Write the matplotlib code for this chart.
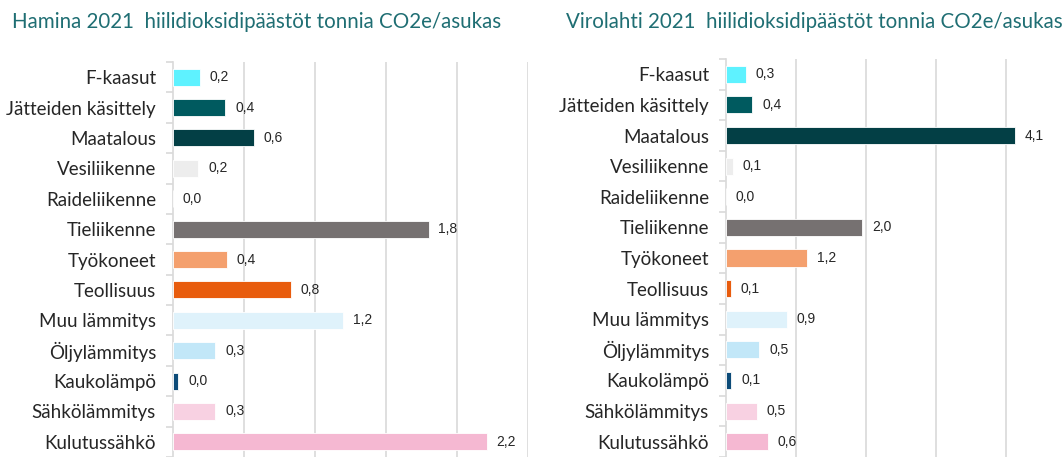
import matplotlib
matplotlib.use("Agg")
import matplotlib.pyplot as plt
import numpy as np

categories = ["F-kaasut", "Jätteiden käsittely", "Maatalous", "Vesiliikenne",
              "Raideliikenne", "Tieliikenne", "Työkoneet", "Teollisuus",
              "Muu lämmitys", "Öljylämmitys", "Kaukolämpö", "Sähkölämmitys",
              "Kulutussähkö"]

hamina_values = [0.19, 0.37, 0.57, 0.18, 0.0, 1.80, 0.38, 0.83, 1.20, 0.30, 0.04, 0.30, 2.21]
hamina_labels = ["0,2", "0,4", "0,6", "0,2", "0,0", "1,8", "0,4", "0,8", "1,2", "0,3", "0,0", "0,3", "2,2"]

virolahti_values = [0.29, 0.38, 4.13, 0.10, 0.0, 1.95, 1.16, 0.07, 0.87, 0.48, 0.08, 0.45, 0.60]
virolahti_labels = ["0,3", "0,4", "4,1", "0,1", "0,0", "2,0", "1,2", "0,1", "0,9", "0,5", "0,1", "0,5", "0,6"]

colors = ["#5EF2FF", "#005A5F", "#033F45", "#EDEDED", "#FFFFFF", "#767171",
          "#F4A06E", "#E85C0D", "#DFF2FB", "#C2E7F8", "#0C4B78", "#F8D1E2", "#F5B8D2"]

titles = ["Hamina 2021  hiilidioksidipäästöt tonnia CO2e/asukas",
          "Virolahti 2021  hiilidioksidipäästöt tonnia CO2e/asukas"]

W, H = 1064, 457
fig = plt.figure(figsize=(W / 100, H / 100), dpi=100)

TITLE_COLOR = "#1F6E73"
GRID_COLOR = "#D9D9D9"
CAT_FONT = "Lato"
VAL_FONT = "Liberation Sans"


def make_panel(left_px, right_px, top_px, xmax, grid_step, values, labels, title, title_x):
    ax = fig.add_axes([left_px / W, 0, (right_px - left_px) / W, (H - top_px) / H])
    y = np.arange(len(categories))
    ax.barh(y, values, height=0.56, color=colors, edgecolor="#FFFFFF", linewidth=0.6, zorder=3)
    ax.set_ylim(len(categories) - 0.5, -0.5)
    ax.set_xlim(0, xmax)
    ax.set_xticks(np.arange(grid_step, xmax + 1e-9, grid_step))
    ax.xaxis.grid(True, color=GRID_COLOR, linewidth=1.2, zorder=0)
    ax.tick_params(axis="x", length=0, labelbottom=False)
    ax.set_yticks(y)
    ax.set_yticklabels(categories, fontfamily=CAT_FONT, fontsize=13.5, color="#262626")
    ax.tick_params(axis="y", length=0, pad=12)
    ax.set_yticks(np.arange(-0.5, len(categories), 1.0), minor=True)
    ax.tick_params(axis="y", which="minor", length=5, color=GRID_COLOR, width=1.2)
    for s in ["top", "right", "bottom"]:
        ax.spines[s].set_visible(False)
    ax.spines["left"].set_color(GRID_COLOR)
    ax.spines["left"].set_linewidth(1.2)
    for yi, v, lab in zip(y, values, labels):
        ax.annotate(lab, xy=(v, yi), xytext=(7, 0), textcoords="offset points",
                    va="center", ha="left", fontsize=10, fontfamily=VAL_FONT, color="#262626")
    fig.text(title_x / W, 1 - 22 / H, title, fontsize=14.8, fontfamily=CAT_FONT,
             color=TITLE_COLOR, va="center", ha="left")
    return ax


make_panel(172.7, 528, 62, 2.5, 0.5, hamina_values, hamina_labels, titles[0], 12)
make_panel(725.7, 1064, 59, (1064 - 725.7) / 70.0, 1.0, virolahti_values, virolahti_labels, titles[1], 566)

fig.savefig("out.png", dpi=100, facecolor="white")
